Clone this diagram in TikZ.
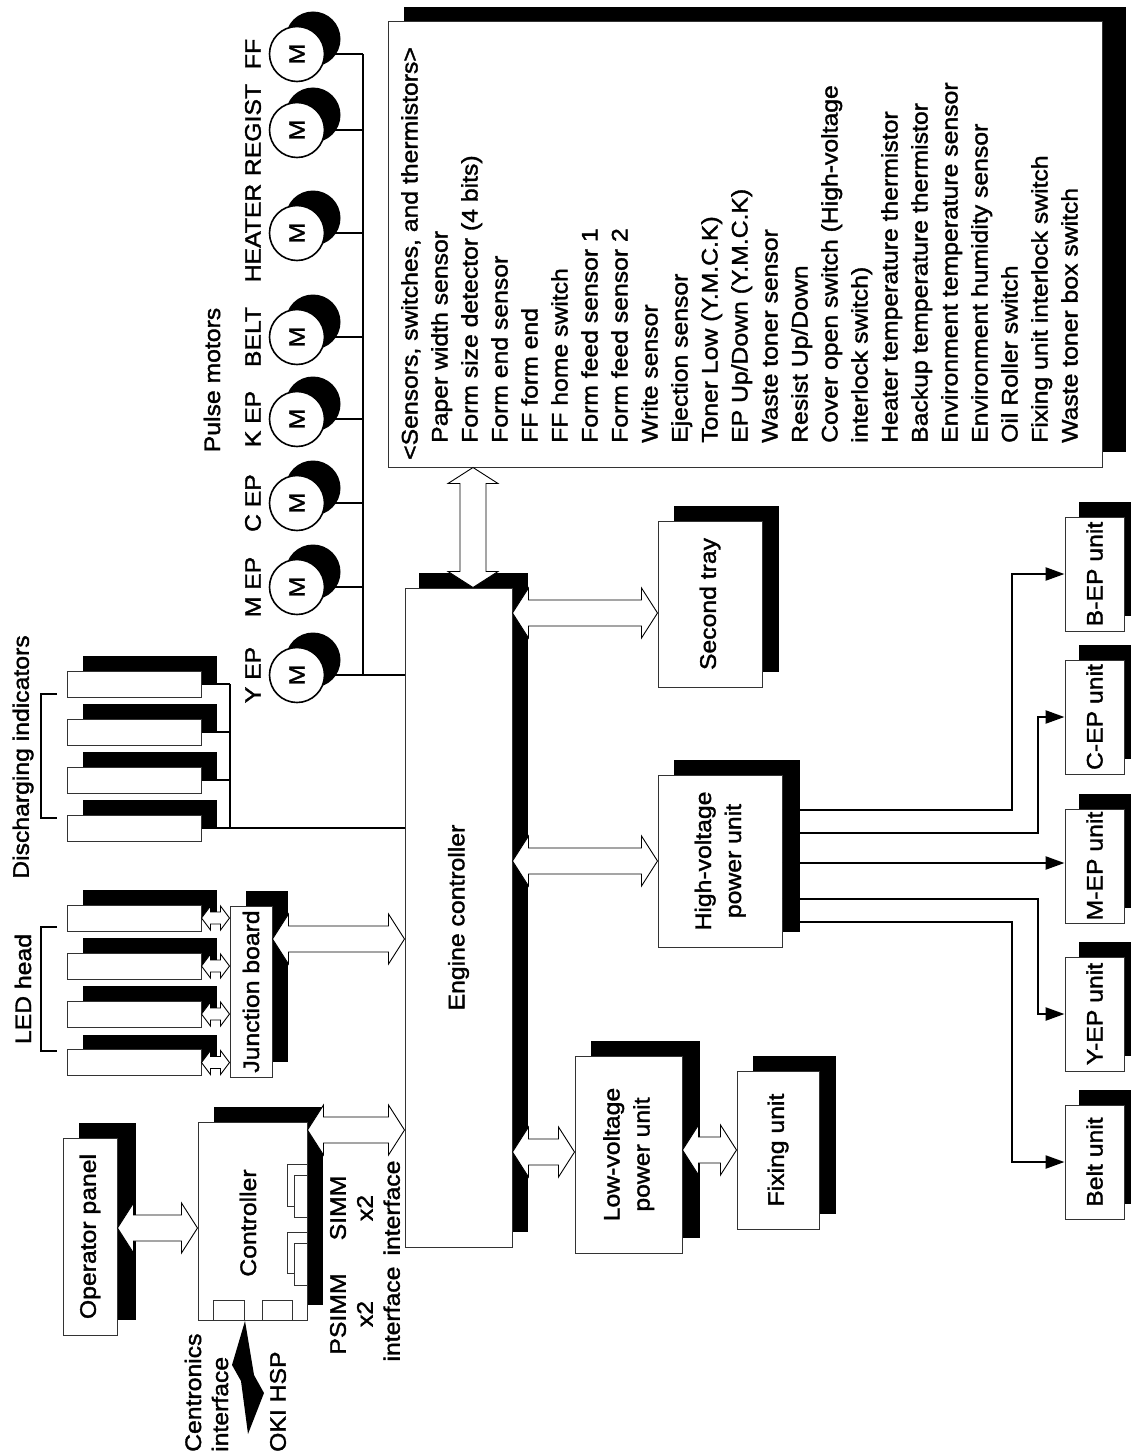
\documentclass[tikz,border=0pt]{standalone}
\usepackage{fontspec}
\setmainfont{Liberation Sans}[FakeStretch=1.1,FakeBold=1.6]
\usetikzlibrary{shadows,calc,arrows.meta}
\newcommand{\harr}[5]{\draw[dbl] (#1) -- ($(#1)+(#3,-#4)$) -- ($(#1)+(#3,-#5)$) -- ($(#2)+(-#3,-#5)$) -- ($(#2)+(-#3,-#4)$) -- (#2) -- ($(#2)+(-#3,#4)$) -- ($(#2)+(-#3,#5)$) -- ($(#1)+(#3,#5)$) -- ($(#1)+(#3,#4)$) -- cycle;}
\newcommand{\varr}[5]{\draw[dbl] (#1) -- ($(#1)+(-#4,#3)$) -- ($(#1)+(-#5,#3)$) -- ($(#2)+(-#5,-#3)$) -- ($(#2)+(-#4,-#3)$) -- (#2) -- ($(#2)+(#4,-#3)$) -- ($(#2)+(#5,-#3)$) -- ($(#1)+(#5,#3)$) -- ($(#1)+(#4,#3)$) -- cycle;}
\newcommand{\rt}[1]{\rotatebox{90}{#1}}
\newcommand{\rtt}[2]{\rotatebox{90}{\fontsize{22.5}{30}\selectfont\begin{tabular}{@{}c@{}}#1\\#2\end{tabular}}}
\begin{document}
\begin{tikzpicture}[x=1pt,y=-1pt,font=\fontsize{22.5}{27}\selectfont,
  box/.style={draw=black!80, line width=1pt, fill=white, inner sep=0pt,
    general shadow={fill=black, shadow xshift=16pt, shadow yshift=15pt}},
  motor/.style={circle, draw=black, line width=1.6pt, fill=white, minimum size=55pt, inner sep=0pt,
    general shadow={fill=black, shadow xshift=16pt, shadow yshift=15pt}},
  wire/.style={line width=2pt},
  hvwire/.style={line width=2.4pt, -{Triangle[length=19pt,width=13pt]}},
  dbl/.style={draw=black, line width=0.9pt, fill=white, line join=miter},
  rlabel/.style={rotate=90, inner sep=0pt}]
\useasboundingbox (0,0) rectangle (1131,1453);
\clip (0,0) rectangle (1131,1453);
\fill[white] (0,0) rectangle (1131,1453);

% ---------- boxes ----------
\node[box, minimum width=714pt, minimum height=445pt, general shadow={fill=black, shadow xshift=24pt, shadow yshift=15pt}] (sens) at (745,244.5) {};
\node[rlabel, anchor=north west, align=left, font=\fontsize{22.5}{30}\selectfont] (stext) at (401,460) {<Sensors, switches, and thermistors>\\
\hspace*{17pt}Paper width sensor\\
\hspace*{17pt}Form size detector (4 bits)\\
\hspace*{17pt}Form end sensor\\
\hspace*{17pt}FF form end\\
\hspace*{17pt}FF home switch\\
\hspace*{17pt}Form feed sensor 1\\
\hspace*{17pt}Form feed sensor 2\\
\hspace*{17pt}Write sensor\\
\hspace*{17pt}Ejection sensor\\
\hspace*{17pt}Toner Low (Y.M.C.K)\\
\hspace*{17pt}EP Up/Down (Y.M.C.K)\\
\hspace*{17pt}Waste toner sensor\\
\hspace*{17pt}Resist Up/Down\\
\hspace*{17pt}Cover open switch (High-voltage\\
\hspace*{17pt}interlock switch)\\
\hspace*{17pt}Heater temperature thermistor\\
\hspace*{17pt}Backup temperature thermistor\\
\hspace*{17pt}Environment temperature sensor\\
\hspace*{17pt}Environment humidity sensor\\
\hspace*{17pt}Oil Roller switch\\
\hspace*{17pt}Fixing unit interlock switch\\
\hspace*{17pt}Waste toner box switch};

\node[box, minimum width=107pt, minimum height=659pt, general shadow={fill=black, shadow xshift=14pt, shadow yshift=15pt}] (eng) at (458.5,917.5) {\rt{Engine controller}};
\node[box, minimum width=54pt, minimum height=197pt, general shadow={fill=black, shadow xshift=19pt, shadow yshift=15pt}] (op) at (90,1236.5) {\rt{Operator panel}};
\node[box, minimum width=109pt, minimum height=198pt] (ctrl) at (252.5,1221) {};
\node[inner sep=0pt] (ctrltext) at (248,1223) {\rt{Controller}};
\node[box, minimum width=42pt, minimum height=171pt] (jb) at (251,991.5) {\rt{Junction board}};
\node[box, minimum width=104pt, minimum height=166pt, general shadow={fill=black, shadow xshift=17pt, shadow yshift=15pt}] (tray) at (710,604) {\rt{Second tray}};
\node[box, minimum width=124pt, minimum height=172pt, general shadow={fill=black, shadow xshift=18pt, shadow yshift=15pt}] (hv) at (720,861) {\rtt{High-voltage}{power unit}};
\node[box, minimum width=107pt, minimum height=197pt, general shadow={fill=black, shadow xshift=18pt, shadow yshift=15pt}] (lv) at (628.5,1154.5) {\rtt{Low-voltage}{power unit}};
\node[box, minimum width=82pt, minimum height=158pt, general shadow={fill=black, shadow xshift=17pt, shadow yshift=15pt}] (fix) at (778,1150) {\rt{Fixing unit}};

% units
\foreach \n/\y/\t in {bep/574/B-EP unit, cep/717/C-EP unit, mep/866/M-EP unit, yep/1014/Y-EP unit, belt/1162/Belt unit}{
  \node[box, minimum width=59pt, minimum height=114pt, general shadow={fill=black, shadow xshift=14pt, shadow yshift=15pt}] (\n) at (1094.5,\y) {\rt{\t}};
}

% LED heads and discharging indicators
\foreach \n/\y in {l1/918, l2/966, l3/1014, l4/1062.5, d1/684, d2/732, d3/780, d4/828}{
  \node[box, minimum width=134pt, minimum height=26pt, general shadow={fill=black, shadow xshift=16pt, shadow yshift=13pt}] (\n) at (134,\y) {};
}

% controller details
\draw[line width=0.8pt, draw=black!80] (213,1300) rectangle (244,1320);
\draw[line width=0.8pt, draw=black!80] (262,1300) rectangle (292,1320);
\draw[line width=0.8pt, draw=black!80, fill=white] (287,1164) rectangle (307,1206);
\draw[line width=0.8pt, draw=black!80, fill=white] (294,1175) rectangle (307,1217);
\draw[line width=0.8pt, draw=black!80, fill=white] (287,1232) rectangle (307,1273);
\draw[line width=0.8pt, draw=black!80, fill=white] (294,1243) rectangle (307,1285);
\fill[black] (245,1321) -- (254,1375) -- (264,1393) -- (248,1434) -- (241,1381) -- (232,1365) -- cycle;

% ---------- motors ----------
\foreach \n/\y/\t in {mff/54/FF, mreg/130/REGIST, mheat/233/HEATER, mbelt/337/BELT, mk/419/K EP, mc/503/C EP, mm/587/M EP, my/675/Y EP}{
  \node[motor] (\n) at (297,\y) {\rt{M}};
  \node[rlabel] (\n lab) at (253,\y) {\t};
}
\node[rlabel] (pulse) at (212,380) {Pulse motors};
\coordinate (bus) at (363,0);
\foreach \n in {mff,mreg,mheat,mbelt,mk,mc,mm,my}{
  \draw[wire] (\n.east) -- (\n.east -| bus);
}
\draw[wire] (mff.east -| bus) -- (my.east -| bus);
\draw[wire] (my.east) -- (my.east -| eng.west);

% discharging indicators wiring
\coordinate (dbus) at (230,0);
\foreach \n in {d1,d2,d3,d4}{
  \draw[wire] (\n.east) -- (\n.east -| dbus);
}
\draw[wire] (d1.east -| dbus) -- (d4.east -| dbus);
\draw[wire] (d4.east) -- (d4.east -| eng.west);

% brackets and group labels
\draw[wire] (57,694) -- (41,694) -- (41,818) -- (57,818);
\draw[wire] (57,927) -- (41,927) -- (41,1051) -- (57,1051);
\node[rlabel] (dislab) at (23,757) {Discharging indicators};
\node[rlabel] (ledlab) at (23,989) {LED head};

% ---------- double arrows ----------
\foreach \n in {l1,l2,l3,l4}{
  \harr{\n.east}{\n.east -| jb.west}{9}{12}{6}
}
\harr{jb.east |- 0,939}{eng.west |- 0,939}{16}{25}{13}
\harr{ctrl.east |- 0,1130}{eng.west |- 0,1130}{16}{25}{13}
\harr{op.east |- 0,1228}{ctrl.west |- 0,1228}{16}{25}{13}
\harr{eng.east |- 0,613}{tray.west |- 0,613}{16}{25}{13}
\harr{eng.east |- hv.west}{hv.west}{16}{25}{13}
\harr{eng.east |- 0,1152}{lv.west |- 0,1152}{16}{25}{13}
\harr{lv.east |- fix.west}{fix.west}{16}{25}{13}
\varr{sens.south -| 473,0}{eng.north -| 473,0}{16}{25}{13}

% ---------- high-voltage outputs ----------
\coordinate (c1) at (1012,0);
\coordinate (c2) at (1038,0);
\draw[hvwire] (hv.east |- 0,810) -| (bep.west -| c1) -- (bep.west);
\draw[hvwire] (hv.east |- 0,833) -| (cep.west -| c2) -- (cep.west);
\draw[hvwire] (hv.east |- 0,863) -- (mep.west |- 0,863);
\draw[hvwire] (hv.east |- 0,899) -| (yep.west -| c2) -- (yep.west);
\draw[hvwire] (hv.east |- 0,922) -| (belt.west -| c1) -- (belt.west);

% ---------- bottom labels ----------
\node[rlabel, anchor=west, align=left] (centr) at (206.5,1452) {Centronics\\interface};
\node[rlabel, anchor=west] (oki) at (278,1452) {OKI HSP};
\node[rlabel, align=center] (psimm) at (365,1314) {PSIMM\\x2\\interface};
\node[rlabel, align=center] (simm) at (365,1208) {SIMM\\x2\\interface};
\end{tikzpicture}
\end{document}
